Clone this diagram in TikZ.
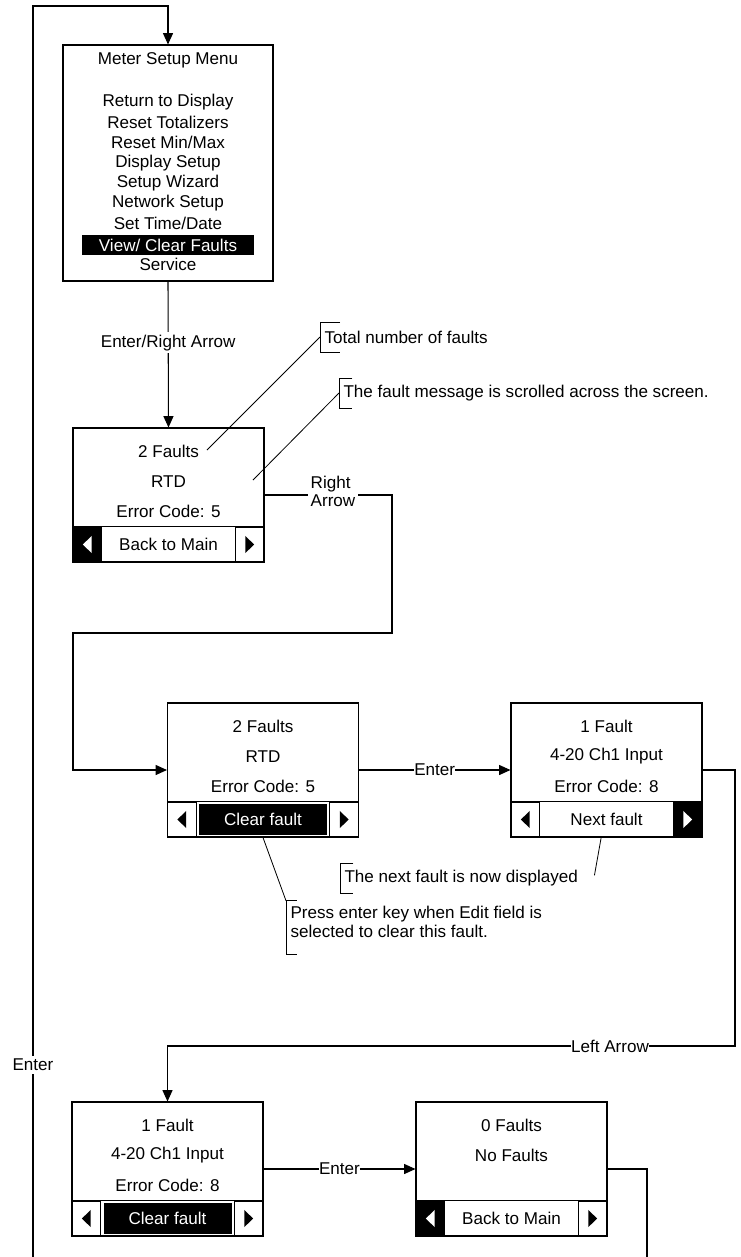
\documentclass[tikz,border=0pt]{standalone}
\usepackage{fontspec}
\setmainfont{Liberation Sans}
\usetikzlibrary{arrows.meta,positioning,calc}
\tikzset{
  >={Triangle[length=8.5pt, width=7.5pt]},
  font=\fontsize{12.8}{15}\selectfont,
  screen/.style={draw, minimum width=143.25pt, minimum height=100.5pt, inner sep=0},
  keycell/.style={draw, minimum width=21.5pt, minimum height=26.25pt, inner sep=0},
  lkey/.style={keycell, path picture={\fill[#1] ([xshift=-3.3pt]path picture bounding box.center)
               -- ++(6.6pt,6.5pt) -- ++(0pt,-13pt) -- cycle;}},
  lkey/.default=black,
  rkey/.style={keycell, path picture={\fill[#1] ([xshift=3.3pt]path picture bounding box.center)
               -- ++(-6.6pt,6.5pt) -- ++(0pt,-13pt) -- cycle;}},
  rkey/.default=black,
  field/.style={minimum width=96pt, minimum height=23.25pt, inner sep=0},
  fieldon/.style={field, fill=black, text=white},
  lbl/.style={fill=white, inner sep=2pt},
  tag/.style={fill=white, inner xsep=0pt, inner ysep=2pt},
  note/.style={anchor=west, align=left, inner xsep=3pt, minimum height=21.75pt},
  lead/.style={line width=0.6pt},
  arr/.style={->},
}

\begin{document}
\begin{tikzpicture}[x=0.75pt, y=-0.75pt, line width=0.8pt]
    \useasboundingbox (0,0) rectangle (740,1257);
    \clip (0,0) rectangle (740,1257);
    % main menu
    \node[draw, minimum width=157.5pt, minimum height=177pt] (menu) at (168,163) {};
    \node (mTitle) at (168,60) {Meter Setup Menu};
    \foreach \entry [count=\i] in {Return to Display, Reset Totalizers, Reset Min/Max,
        Display Setup, Setup Wizard, Network Setup, Set Time/Date}
      \node (m\i) at (168, 81.75+20.25*\i) {\entry};
    \node[fieldon, minimum width=129pt, minimum height=15pt] (m8) at (168,245) {View/ Clear Faults};
    \node (m9) at (168,264) {Service};
    % screen 1: first fault
    \node[screen] (s1) at (168.5,495) {};
    \foreach \t [count=\i] in {2 Faults, RTD, Error Code: 5}
      \node (s1t\i) at ($(s1.north)+(0,-6+30*\i)$) {\t};
    \node[lkey=white, fill=black, anchor=south west] (s1l) at (s1.south west) {};
    \node[rkey, anchor=south east] (s1r) at (s1.south east) {};
    \draw (s1l.north east) -- (s1r.north west);
    \node[field] (s1k) at ($(s1l.east)!0.5!(s1r.west)$) {Back to Main};
    % screen 2: clear fault selected
    \node[screen] (s2) at (263,770) {};
    \foreach \t [count=\i] in {2 Faults, RTD, Error Code: 5}
      \node (s2t\i) at ($(s2.north)+(0,-6+30*\i)$) {\t};
    \node[lkey, anchor=south west] (s2l) at (s2.south west) {};
    \node[rkey, anchor=south east] (s2r) at (s2.south east) {};
    \draw (s2l.north east) -- (s2r.north west);
    \node[fieldon] (s2k) at ($(s2l.east)!0.5!(s2r.west)$) {Clear fault};
    % screen 3: next fault
    \node[screen] (s3) at (606.5,770) {};
    \foreach \t [count=\i] in {1 Fault, 4-20 Ch1 Input, Error Code: 8}
      \node (s3t\i) at ($(s3.north)+(0,-6+30*\i)$) {\t};
    \node[lkey, anchor=south west] (s3l) at (s3.south west) {};
    \node[rkey=white, fill=black, anchor=south east] (s3r) at (s3.south east) {};
    \draw (s3l.north east) -- (s3r.north west);
    \node[field] (s3k) at ($(s3l.east)!0.5!(s3r.west)$) {Next fault};
    % screen 4: last fault
    \node[screen] (s4) at (167.5,1169) {};
    \foreach \t [count=\i] in {1 Fault, 4-20 Ch1 Input, Error Code: 8}
      \node (s4t\i) at ($(s4.north)+(0,-6+30*\i)$) {\t};
    \node[lkey, anchor=south west] (s4l) at (s4.south west) {};
    \node[rkey, anchor=south east] (s4r) at (s4.south east) {};
    \draw (s4l.north east) -- (s4r.north west);
    \node[fieldon] (s4k) at ($(s4l.east)!0.5!(s4r.west)$) {Clear fault};
    % screen 5: no faults left
    \node[screen] (s5) at (511.5,1169) {};
    \foreach \t [count=\i] in {0 Faults, No Faults}
      \node (s5t\i) at ($(s5.north)+(0,-6+30*\i)$) {\t};
    \node[lkey=white, fill=black, anchor=south west] (s5l) at (s5.south west) {};
    \node[rkey, anchor=south east] (s5r) at (s5.south east) {};
    \draw (s5l.north east) -- (s5r.north west);
    \node[field] (s5k) at ($(s5l.east)!0.5!(s5r.west)$) {Back to Main};
    % key presses
    \coordinate (ra1) at (392,633);
    \coordinate (ra2) at (73,633);
    \coordinate (la) at (735,1046);
    \coordinate (lp1) at (647,1275);
    \coordinate (lp2) at (33,6);
    \draw[arr] (menu.south) -- node[lbl, pos=0.42] (eRA) {Enter/Right Arrow} (s1.north);
    \draw[arr] (s1.east) -| (ra1) -- (ra2) |- (s2.west);
    \node[lbl, align=left, font=\fontsize{12.8}{13.5}\selectfont] (rA) at (333,491) {Right\\Arrow};
    \draw[arr] (s2.east) -- node[tag] (e1) {Enter} (s3.west);
    \draw[arr] (s3.east) -| (la) -| (s4.north);
    \node[tag] (lA) at (610,1046) {Left Arrow};
    \draw[arr] (s4.east) -- node[tag] (e2) {Enter} (s5.west);
    \draw[arr] (s5.east) -| (lp1) -| (lp2) -| (menu.north);
    \node[lbl] (e3) at (33,1065) {Enter};
    % callouts
    \node[note] (nTotal) at (320,337) {Total number of faults};
    \node[note] (nScroll) at (339,393) {The fault message is scrolled across the screen.};
    \node[note] (nNext) at (340,878) {The next fault is now displayed};
    \node[note, font=\fontsize{12.8}{14.25}\selectfont] (nPress) at (286,921.5)
      {Press enter key when Edit field is\\selected to clear this fault.};
    \draw[lead] (nTotal.north west) ++(15pt,0) -- (nTotal.north west) -- (nTotal.south west) -- ++(15pt,0);
    \foreach \n in {nScroll,nNext}
      \draw[lead] (\n.north west) ++(10pt,0) -- (\n.north west) -- (\n.south west) -- ++(10pt,0);
    \draw[lead] (nPress.north west) ++(8pt,0) -- (nPress.north west) -- ([yshift=-9pt]nPress.south west) -- ++(8pt,0);
    \coordinate (pTotal) at (207,450);
    \coordinate (pScroll) at (253,480);
    \draw[lead] (nTotal.west) -- (pTotal);
    \draw[lead] (nScroll.west) -- (pScroll);
    \draw[lead] ([xshift=-4pt]s3.south) -- ([shift={(9pt,2pt)}]nNext.east);
    \draw[lead] (s2.south) -- (nPress.north west);
\end{tikzpicture}
\end{document}
